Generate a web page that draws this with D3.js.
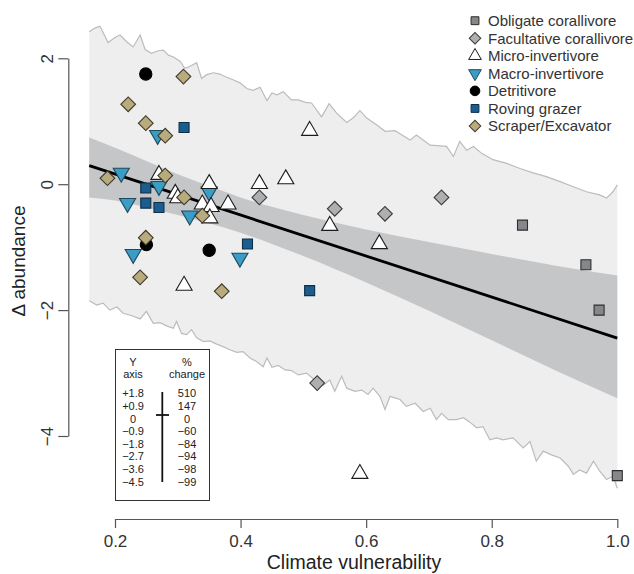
<!DOCTYPE html>
<html><head><meta charset="utf-8">
<script src="https://cdn.jsdelivr.net/npm/d3@7"></script>
<style>body{margin:0;background:#fff}svg{display:block;font-family:"Liberation Sans",Arial,sans-serif}</style>
</head><body>
<svg id="c" width="634" height="574"></svg>
<script>
// ---- data ----
const groupNames = ["Obligate corallivore","Facultative corallivore","Micro-invertivore","Macro-invertivore","Detritivore","Roving grazer","Scraper/Excavator"];
const obligateX = [0.849, 0.950, 0.971, 1.000];
const obligateY = [-0.65, -1.28, -2.00, -4.63];
const facultativeX = [0.430, 0.550, 0.630, 0.720, 0.522];
const facultativeY = [-0.21, -0.39, -0.47, -0.21, -3.16];
const microX = [0.510, 0.430, 0.472, 0.542, 0.621, 0.270, 0.350, 0.296, 0.300, 0.339, 0.353, 0.380, 0.351, 0.310, 0.590];
const microY = [0.85, 0.005, 0.08, -0.66, -0.95, 0.15, 0.005, -0.15, -0.22, -0.32, -0.36, -0.32, -0.54, -1.61, -4.60];
const macroX = [0.210, 0.270, 0.220, 0.319, 0.350, 0.229, 0.399, 0.268];
const macroY = [0.18, -0.03, -0.30, -0.50, -0.12, -1.11, -1.17, 0.78];
const detritX = [0.249, 0.250, 0.350];
const detritY = [1.75, -0.96, -1.05];
const rovingX = [0.310, 0.249, 0.249, 0.270, 0.411, 0.510];
const rovingY = [0.90, -0.06, -0.30, -0.37, -0.95, -1.69];
const scraperX = [0.188, 0.221, 0.249, 0.280, 0.309, 0.280, 0.310, 0.339, 0.249, 0.240, 0.370];
const scraperY = [0.095, 1.27, 0.97, 0.77, 1.71, 0.137, -0.21, -0.50, -0.85, -1.48, -1.70];

const fitX = [0.159, 1.0];
const fitY = [0.295, -2.444];

const ciX    = [0.159, 0.2, 0.25, 0.3, 0.35, 0.4, 0.45, 0.5, 0.6, 0.7, 0.8, 0.9, 1.0];
const ciHigh = [0.74, 0.58, 0.37, 0.16, -0.03, -0.21, -0.36, -0.49, -0.72, -0.92, -1.11, -1.29, -1.45];
const ciLow  = [-0.21, -0.26, -0.37, -0.49, -0.62, -0.77, -0.95, -1.14, -1.56, -2.01, -2.48, -2.95, -3.40];

const upperX = [0.159,0.168,0.176,0.189,0.200,0.208,0.219,0.229,0.240,0.248,0.258,0.269,0.277,0.285,0.293,0.304,0.311,0.319,0.330,0.338,0.346,0.357,0.367,0.378,0.388,0.399,0.410,0.420,0.431,0.442,0.450,0.458,0.468,0.481,0.492,0.503,0.513,0.529,0.541,0.553,0.569,0.579,0.590,0.601,0.617,0.630,0.646,0.657,0.670,0.680,0.702,0.718,0.728,0.739,0.749,0.760,0.771,0.784,0.802,0.824,0.845,0.866,0.887,0.909,0.930,0.951,0.972,0.983,0.993,1.000];
const upperY = [2.42,2.48,2.51,2.25,2.33,2.37,2.26,2.18,2.37,2.14,2.08,2.12,2.13,2.05,2.02,1.95,1.84,1.87,1.93,1.68,1.74,1.77,1.75,1.70,1.66,1.61,1.52,1.49,1.54,1.33,1.45,1.42,1.47,1.34,1.34,1.30,1.29,1.07,1.28,1.13,0.98,1.05,1.17,1.05,0.94,0.84,0.85,0.78,0.70,0.78,0.62,0.61,0.60,0.44,0.68,0.54,0.60,0.49,0.39,0.33,0.25,0.18,0.12,0.04,-0.04,-0.12,-0.17,-0.22,-0.12,-0.01];
const lowerX = [0.159,0.171,0.181,0.192,0.203,0.213,0.227,0.240,0.250,0.261,0.272,0.282,0.293,0.298,0.306,0.314,0.322,0.330,0.341,0.351,0.362,0.372,0.383,0.394,0.404,0.415,0.426,0.436,0.442,0.450,0.460,0.471,0.481,0.492,0.505,0.518,0.532,0.542,0.550,0.561,0.569,0.582,0.593,0.603,0.611,0.622,0.630,0.638,0.654,0.664,0.678,0.691,0.702,0.712,0.720,0.731,0.744,0.755,0.765,0.776,0.786,0.797,0.808,0.818,0.834,0.842,0.850,0.861,0.871,0.882,0.895,0.909,0.922,0.930,0.940,0.951,0.962,0.972,0.983,0.993,1.000];
const lowerY = [-1.85,-1.92,-1.89,-2.00,-1.95,-2.05,-2.09,-2.14,-2.02,-2.21,-2.20,-2.25,-2.29,-2.18,-2.37,-2.39,-2.31,-2.44,-2.50,-2.49,-2.54,-2.58,-2.63,-2.67,-2.66,-2.76,-2.82,-2.90,-2.76,-2.91,-2.88,-2.95,-2.96,-3.03,-3.00,-3.11,-3.19,-3.11,-3.29,-3.05,-3.24,-3.29,-3.27,-3.34,-3.24,-3.37,-3.58,-3.37,-3.42,-3.53,-3.48,-3.61,-3.56,-3.74,-3.64,-3.74,-3.74,-3.71,-3.78,-3.87,-3.85,-4.06,-4.03,-4.06,-4.03,-4.11,-4.19,-4.09,-4.40,-4.24,-4.30,-4.35,-4.48,-4.61,-4.54,-4.59,-4.40,-4.56,-4.69,-4.64,-4.83];

const xTicks = [0.2, 0.4, 0.6, 0.8, 1.0];
const yTicks = [-4, -2, 0, 2];
const insetLeft  = ["+1.8","+0.9","0","\u22120.9","\u22121.8","\u22122.7","\u22123.6","\u22124.5"];
const insetRight = ["510","147","0","\u221260","\u221284","\u221294","\u221298","\u221299"];

// ---- drawing ----
const svg = d3.select("#c");
const x = d3.scaleLinear().domain([0.2, 1.0]).range([115, 617.3]);
const y = d3.scaleLinear().domain([-4, 2]).range([436, 58.3]);

// prediction band
const upperPts = upperX.map((v,i)=>[v, upperY[i]]);
const lowerPts = lowerX.map((v,i)=>[v, lowerY[i]]);
const poly = upperPts.concat(lowerPts.slice().reverse());
const line = d3.line().x(d=>x(d[0])).y(d=>y(d[1]));
svg.append("path").attr("d", line(poly) + "Z").attr("fill", "#eeeeee");
svg.append("path").attr("d", line(upperPts)).attr("fill","none").attr("stroke","#bcbcbc").attr("stroke-width",1.2);
svg.append("path").attr("d", line(lowerPts)).attr("fill","none").attr("stroke","#bcbcbc").attr("stroke-width",1.2);

// confidence band
const ciArea = d3.area().curve(d3.curveMonotoneX).x((d,i)=>x(ciX[i])).y0((d,i)=>y(ciLow[i])).y1((d,i)=>y(ciHigh[i]));
svg.append("path").attr("d", ciArea(ciX)).attr("fill", "#c5c6c8");

// fit line
svg.append("line").attr("x1", x(fitX[0])).attr("y1", y(fitY[0])).attr("x2", x(fitX[1])).attr("y2", y(fitY[1]))
  .attr("stroke","#000").attr("stroke-width",2.8);

// axes
const gx = svg.append("g").attr("transform","translate(0,519)")
  .call(d3.axisBottom(x).tickValues(xTicks).tickFormat(d3.format(".1f")).tickSize(9).tickSizeOuter(0).tickPadding(7));
gx.selectAll("path,line").attr("stroke","#555").attr("stroke-width",1.2);
gx.selectAll("text").attr("font-size",17).attr("fill","#333").attr("font-family","Liberation Sans, Arial, sans-serif");

const gy = svg.append("g").attr("transform","translate(68.3,0)")
  .call(d3.axisLeft(y).tickValues(yTicks).tickSize(10).tickSizeOuter(0).tickFormat(d=>String(d).replace("-","\u2212")));
gy.selectAll("path,line").attr("stroke","#555").attr("stroke-width",1.2);
gy.selectAll("text").attr("font-size",17).attr("fill","#333").attr("font-family","Liberation Sans, Arial, sans-serif")
  .attr("x",null).attr("dy",null).attr("text-anchor","middle").attr("transform","translate(-15.5,0) rotate(-90)");

svg.append("text").attr("x",354).attr("y",569).attr("text-anchor","middle").attr("font-size",19.5).attr("fill","#222").text("Climate vulnerability");
svg.append("text").attr("transform","translate(25,261) rotate(-90)").attr("text-anchor","middle").attr("font-size",19).attr("fill","#222").text("\u0394 abundance");

// symbols
const styles = [
  {type:"square", fill:"#85878a", stroke:"#2e2e2e"},
  {type:"diamond", fill:"#aeafb1", stroke:"#3a3a3a"},
  {type:"up", fill:"#ffffff", stroke:"#1c1c1c"},
  {type:"down", fill:"#3b9dc6", stroke:"#1d4a5e"},
  {type:"circle", fill:"#000000", stroke:"#000000"},
  {type:"square", fill:"#1b5d8e", stroke:"#0f2f47"},
  {type:"diamond", fill:"#b8ab7d", stroke:"#3e3a28"}
];
function symPath(type, scale){
  if(type==="square") return {d: d3.symbol(d3.symbolSquare, 100*scale)(), rot:0};
  if(type==="diamond") return {d: d3.symbol(d3.symbolSquare, 108*scale)(), rot:45};
  if(type==="up") return {d: d3.symbol(d3.symbolTriangle, 112*scale)(), rot:0};
  if(type==="down") return {d: d3.symbol(d3.symbolTriangle, 112*scale)(), rot:180};
  return {d: d3.symbol(d3.symbolCircle, 118*scale)(), rot:0};
}
const groupData = [
  [obligateX, obligateY],[facultativeX, facultativeY],[microX, microY],[macroX, macroY],
  [detritX, detritY],[rovingX, rovingY],[scraperX, scraperY]
];
const drawOrder = [0,1,4,3,2,5,6];
drawOrder.forEach(gi=>{
  const st = styles[gi], sp = symPath(st.type, 1);
  const [gxv, gyv] = groupData[gi];
  svg.append("g").selectAll("path").data(gxv.map((v,i)=>[v, gyv[i]])).join("path")
    .attr("d", sp.d)
    .attr("transform", d=>`translate(${x(d[0])},${y(d[1])}) rotate(${sp.rot})`)
    .attr("fill", st.fill).attr("stroke", st.stroke).attr("stroke-width", 1.1);
});

// legend
const lg = svg.append("g");
lg.append("rect").attr("x",466).attr("y",8).attr("width",168).attr("height",126).attr("fill","#fff");
groupNames.forEach((name,i)=>{
  const cy = 20.7 + i*17.55;
  const st = styles[i], sp = symPath(st.type, 0.62);
  lg.append("path").attr("d", sp.d).attr("transform",`translate(475,${cy}) rotate(${sp.rot})`)
    .attr("fill", st.fill).attr("stroke", st.stroke).attr("stroke-width",1);
  lg.append("text").attr("x",488).attr("y",cy+5.3).attr("font-size",15).attr("fill","#333").text(name);
});

// inset key
const ins = svg.append("g");
ins.append("rect").attr("x",115.5).attr("y",349.5).attr("width",94).attr("height",151).attr("fill","#fff").attr("stroke","#333").attr("stroke-width",1);
const hdr = [["Y",133,365.5],["axis",133,378],["%",187,365.5],["change",187,378]];
hdr.forEach(h=>ins.append("text").attr("x",h[1]).attr("y",h[2]).attr("text-anchor","middle").attr("font-size",11).attr("fill","#222").text(h[0]));
insetLeft.forEach((t,i)=>{
  ins.append("text").attr("x",133).attr("y",397.3+i*12.6).attr("text-anchor","middle").attr("font-size",11).attr("fill","#222").text(t);
  ins.append("text").attr("x",187).attr("y",397.3+i*12.6).attr("text-anchor","middle").attr("font-size",11).attr("fill","#222").text(insetRight[i]);
});
ins.append("line").attr("x1",162.3).attr("x2",162.3).attr("y1",392).attr("y2",482).attr("stroke","#111").attr("stroke-width",1.8);
ins.append("line").attr("x1",156).attr("x2",169).attr("y1",415).attr("y2",415).attr("stroke","#111").attr("stroke-width",1.8);
</script>
</body></html>
